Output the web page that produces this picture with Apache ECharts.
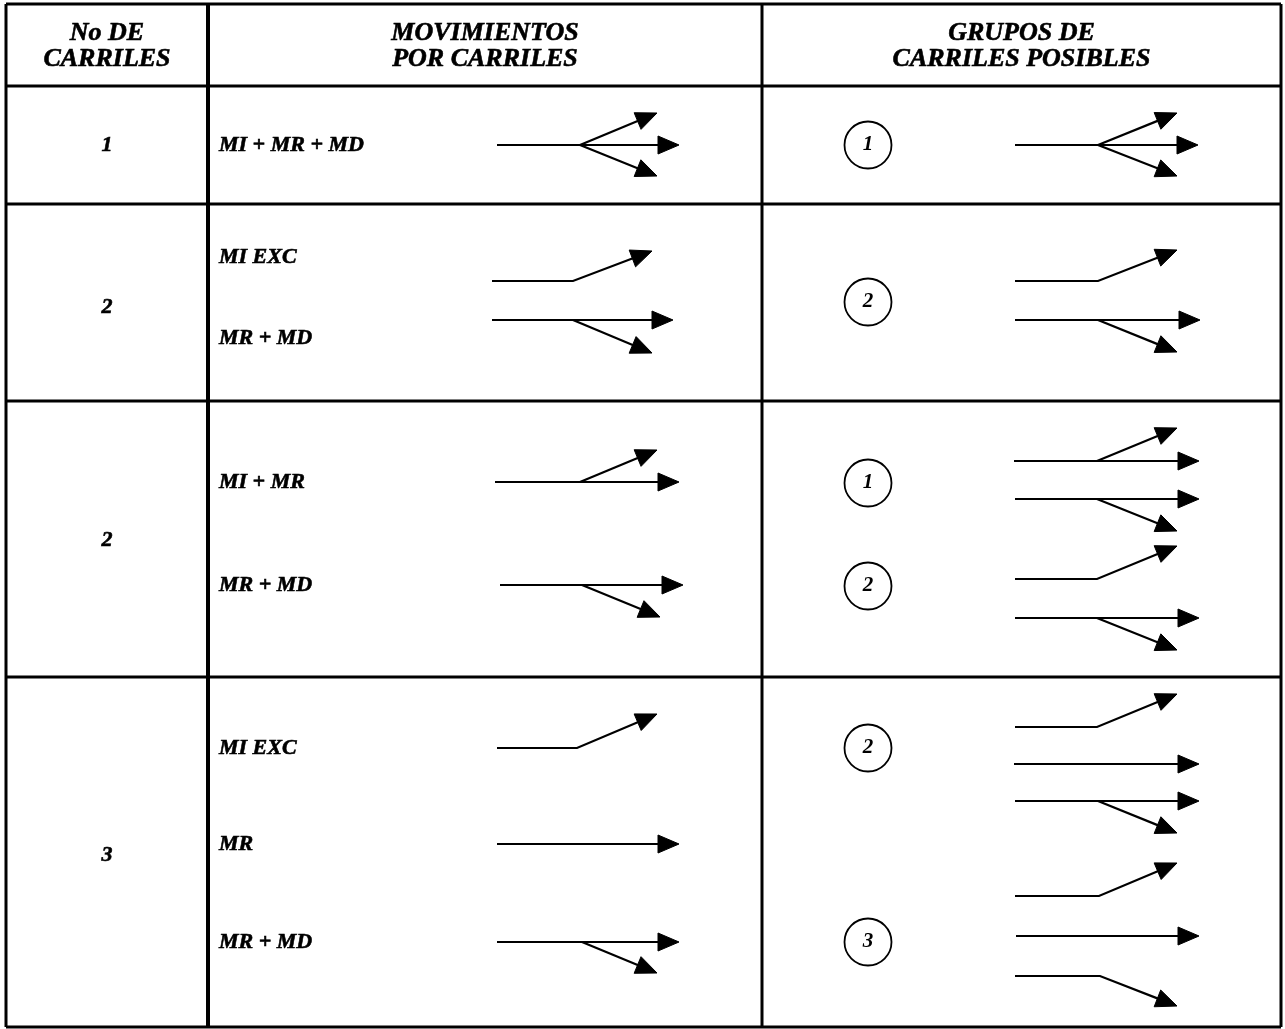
<!DOCTYPE html>
<html>
<head>
<meta charset="utf-8">
<script src="https://cdn.jsdelivr.net/npm/echarts@6/dist/echarts.min.js"></script>
<style>
html,body{margin:0;padding:0;background:#fff;}
#chart{width:1285px;height:1029px;}
</style>
</head>
<body>
<div id="chart"></div>
<script>
// ---- Table structure (diagram units) ----
const colEdges = [6, 208, 762, 1281];
const rowEdges = [4, 86, 204, 401, 677, 1027];

// ---- Header texts ----
const headerTexts = [
  ["No DE", "CARRILES"],
  ["MOVIMIENTOS", "POR CARRILES"],
  ["GRUPOS DE", "CARRILES POSIBLES"]
];
const headerLineY = [33, 59];

// ---- Number of lanes per row ----
const laneCounts = ["1", "2", "2", "3"];
const laneCountY = [145, 307, 540, 855];

// ---- Movement labels (column 2) ----
const movementLabels = ["MI + MR + MD", "MI EXC", "MR + MD", "MI + MR", "MR + MD", "MI EXC", "MR", "MR + MD"];
const movementLabelY = [145, 257, 338, 482, 585, 748, 844, 942];

// ---- Lane group circles (column 3) ----
const groupNumbers = ["1", "2", "1", "2", "2", "3"];
const groupY = [145, 302, 483, 586, 748, 942];

// ---- Arrows: polylines, last point = arrow tip ----
const movementArrows = [
  [[497,145],[679,145]], [[580,145],[657,113]], [[580,145],[657,176]],
  [[492,281],[573,281],[652,251]], [[492,320],[673,320]], [[573,320],[652,353]],
  [[495,482],[679,482]], [[580,482],[657,450]], [[500,585],[683,585]], [[582,585],[660,617]],
  [[497,748],[577,748],[657,714]], [[497,844],[679,844]], [[497,942],[679,942]], [[582,942],[657,973]]
];
const groupArrows = [
  [[1015,145],[1198,145]], [[1098,145],[1177,113]], [[1098,145],[1177,176]],
  [[1015,281],[1098,281],[1177,250]], [[1015,320],[1200,320]], [[1098,320],[1177,352]],
  [[1014,461],[1199,461]], [[1097,461],[1177,428]], [[1015,499],[1199,499]], [[1097,499],[1177,531]],
  [[1015,579],[1097,579],[1177,546]], [[1015,618],[1199,618]], [[1097,618],[1177,650]],
  [[1015,727],[1097,727],[1177,694]], [[1014,764],[1199,764]], [[1015,801],[1199,801]], [[1098,801],[1177,833]],
  [[1015,896],[1099,896],[1177,863]], [[1016,936],[1199,936]], [[1015,976],[1100,976],[1177,1006]]
];

// ---- Build derived data ----
const FONT = 'italic bold 22px "Liberation Serif", "Times New Roman", serif';
const HFONT = 'italic bold 26px "Liberation Serif", "Times New Roman", serif';

const gridSegments = [];
rowEdges.forEach(y => gridSegments.push([colEdges[0], y, colEdges[colEdges.length-1], y]));
colEdges.forEach(x => gridSegments.push([x, rowEdges[0], x, rowEdges[rowEdges.length-1]]));

const textItems = [];
headerTexts.forEach((lines, c) => {
  const cx = (colEdges[c] + colEdges[c+1]) / 2;
  lines.forEach((t, k) => textItems.push({value:[cx, headerLineY[k]], text:t, align:'center', font:HFONT}));
});
laneCounts.forEach((t, i) => textItems.push({value:[(colEdges[0]+colEdges[1])/2, laneCountY[i]], text:t, align:'center', font:FONT}));
movementLabels.forEach((t, i) => textItems.push({value:[colEdges[1]+11, movementLabelY[i]], text:t, align:'left', font:FONT}));

const allArrows = movementArrows.concat(groupArrows);

const chart = echarts.init(document.getElementById('chart'));
chart.setOption({
  animation: false,
  backgroundColor: '#fff',
  grid: {left:0, right:0, top:0, bottom:0},
  xAxis: {type:'value', min:0, max:1285, show:false},
  yAxis: {type:'value', min:0, max:1029, inverse:true, show:false},
  series: [
    {
      type:'custom', name:'tabla',
      data: gridSegments.map(s => ({value: s})),
      renderItem: function(params, api){
        const a = api.coord([api.value(0), api.value(1)]);
        const b = api.coord([api.value(2), api.value(3)]);
        const vertical = Math.abs(a[0]-b[0]) < 1;
        const thick = vertical && (params.dataIndex === rowEdges.length + 1) ? 4 : 3;
        return {type:'line', shape:{x1:a[0], y1:a[1], x2:b[0], y2:b[1]}, style:{stroke:'#000', lineWidth:thick}};
      }
    },
    {
      type:'custom', name:'flechas',
      data: allArrows.map((a, i) => ({value:[i, a[0][0], a[0][1]]})),
      renderItem: function(params, api){
        const pts = allArrows[params.dataIndex].map(p => api.coord(p));
        const n = pts.length;
        const tip = pts[n-1], prev = pts[n-2];
        let dx = tip[0]-prev[0], dy = tip[1]-prev[1];
        const len = Math.sqrt(dx*dx+dy*dy); dx/=len; dy/=len;
        const L = 21, W = 9;
        const bx = tip[0]-dx*L, by = tip[1]-dy*L;
        const linePts = pts.slice(0, n-1).concat([[bx+dx*2, by+dy*2]]);
        return {type:'group', children:[
          {type:'polyline', shape:{points:linePts}, style:{stroke:'#000', lineWidth:2.2, fill:null}},
          {type:'polygon', shape:{points:[tip, [bx - dy*W, by + dx*W], [bx + dy*W, by - dx*W]]}, style:{fill:'#000', stroke:'#000', lineWidth:1}}
        ]};
      }
    },
    {
      type:'scatter', name:'grupos',
      data: groupNumbers.map((t, i) => ({value:[868, groupY[i]], name:t})),
      symbol:'circle', symbolSize:47,
      itemStyle:{color:'#fff', borderColor:'#000', borderWidth:1.8, opacity:1},
      label:{show:true, position:'inside', formatter: p => p.name, color:'#000',
        fontFamily:'"Liberation Serif", serif', fontStyle:'italic', fontWeight:'bold', fontSize:21},
      emphasis:{disabled:true}
    },
    {
      type:'custom', name:'textos',
      data: textItems.map(t => ({value:t.value})),
      renderItem: function(params, api){
        const it = textItems[params.dataIndex];
        const p = api.coord(it.value);
        return {type:'text', x:p[0], y:p[1], style:{text:it.text, font:it.font, fill:'#000',
          stroke:'#000', lineWidth:0.6,
          align:it.align, verticalAlign:'middle', textAlign:it.align, textVerticalAlign:'middle'}};
      }
    }
  ]
});
</script>
</body>
</html>
